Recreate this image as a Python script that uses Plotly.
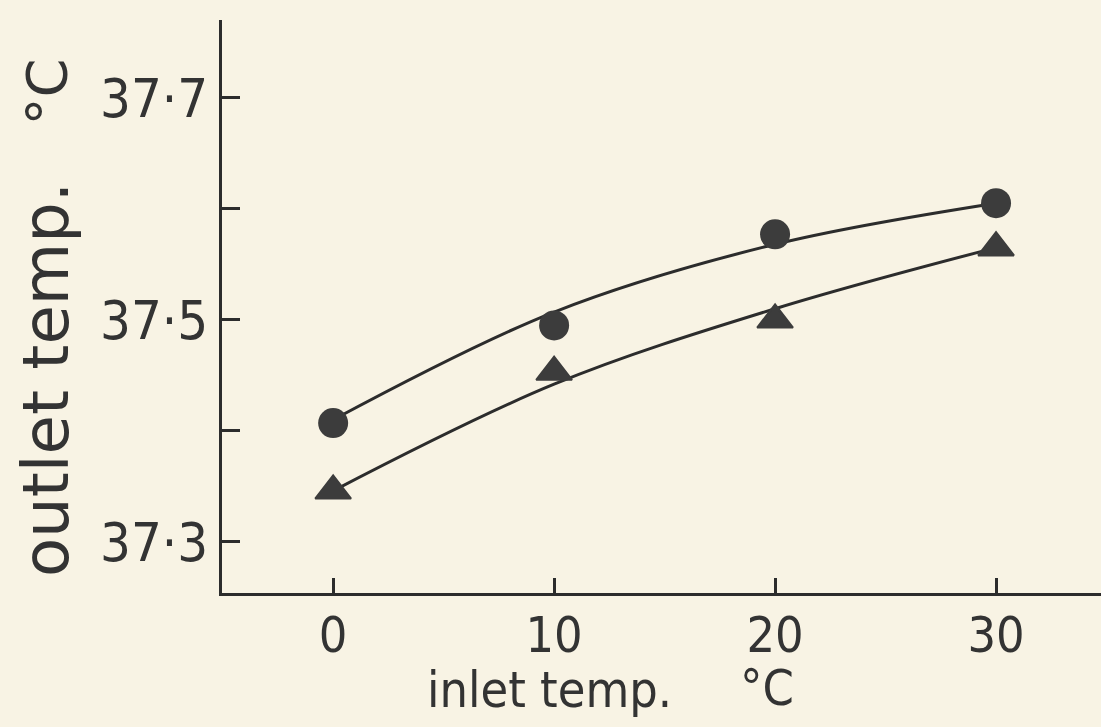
import plotly.graph_objects as go

# ---- data ----
inlet_temp = [0, 10, 20, 30]
outlet_circle = [37.407, 37.495, 37.577, 37.605]
outlet_triangle = [37.346, 37.453, 37.500, 37.565]
# smooth fitted curves at the same inlet temps
fit_circle = [37.410, 37.507, 37.568, 37.605]
fit_triangle = [37.346, 37.442, 37.510, 37.565]

x_ticks = [0, 10, 20, 30]
x_tick_labels = ["0", "10", "20", "30"]
y_ticks = [37.3, 37.4, 37.5, 37.6, 37.7]
y_tick_labels = ["37·3", "", "37·5", "", "37·7"]

BG = "#f8f3e4"
INK = "#2c2c2c"
MARK = "#3c3c3c"
FONT = "DejaVu Sans Condensed, Liberation Sans Narrow, DejaVu Sans"

fig = go.Figure()
fig.add_trace(go.Scatter(x=inlet_temp, y=fit_circle, mode="lines",
                         line=dict(color=INK, width=3, shape="spline"),
                         hoverinfo="skip", showlegend=False))
fig.add_trace(go.Scatter(x=inlet_temp, y=fit_triangle, mode="lines",
                         line=dict(color=INK, width=3, shape="spline"),
                         hoverinfo="skip", showlegend=False))
fig.add_trace(go.Scatter(x=inlet_temp, y=outlet_circle, mode="markers",
                         marker=dict(symbol="circle", size=30, color=MARK,
                                     line=dict(width=0)),
                         showlegend=False))
fig.add_trace(go.Scatter(x=inlet_temp, y=outlet_triangle, mode="markers",
                         marker=dict(symbol="triangle-up", size=31, color=MARK,
                                     line=dict(width=2, color=MARK)),
                         showlegend=False))

fig.update_xaxes(range=[-5.03, 34.75], showline=True, linewidth=3, linecolor=INK,
                 ticks="inside", ticklen=15, tickwidth=3, tickcolor=INK,
                 tickvals=x_ticks, ticktext=x_tick_labels,
                 tickfont=dict(family=FONT, size=50, color="#333333"),
                 ticklabelstandoff=-4,
                 showgrid=False, zeroline=False)
fig.update_yaxes(range=[37.254, 37.770], showline=True, linewidth=3, linecolor=INK,
                 ticks="inside", ticklen=18, tickwidth=3, tickcolor=INK,
                 tickvals=y_ticks, ticktext=y_tick_labels,
                 tickfont=dict(family=FONT, size=54, color="#333333"),
                 ticklabelstandoff=0,
                 showgrid=False, zeroline=False)

title_font = dict(family=FONT, size=50, color="#333333")
fig.add_annotation(text="inlet temp.", xref="paper", yref="paper",
                   x=0.373, y=-0.169, showarrow=False, font=title_font,
                   xanchor="center", yanchor="middle")
fig.add_annotation(text="°C", xref="paper", yref="paper",
                   x=0.620, y=-0.166, showarrow=False, font=title_font,
                   xanchor="center", yanchor="middle")
fig.add_annotation(text="outlet temp.", xref="paper", yref="paper",
                   x=-0.200, y=0.372, showarrow=False, textangle=-90,
                   font=dict(family="DejaVu Sans", size=64, color="#333333"),
                   xanchor="center", yanchor="middle")
fig.add_annotation(text="°C", xref="paper", yref="paper",
                   x=-0.200, y=0.874, showarrow=False, textangle=-90,
                   font=dict(family="DejaVu Sans", size=56, color="#333333"),
                   xanchor="center", yanchor="middle")

fig.update_layout(width=1101, height=727,
                  margin=dict(l=222, r=0, t=20, b=134),
                  paper_bgcolor=BG, plot_bgcolor=BG,
                  showlegend=False)

fig.write_html(
    "out.html",
    config={"displayModeBar": False},
    post_script="document.body.style.margin='0';"
                "document.body.style.background='" + BG + "';"
                "document.body.style.overflow='hidden';",
)
